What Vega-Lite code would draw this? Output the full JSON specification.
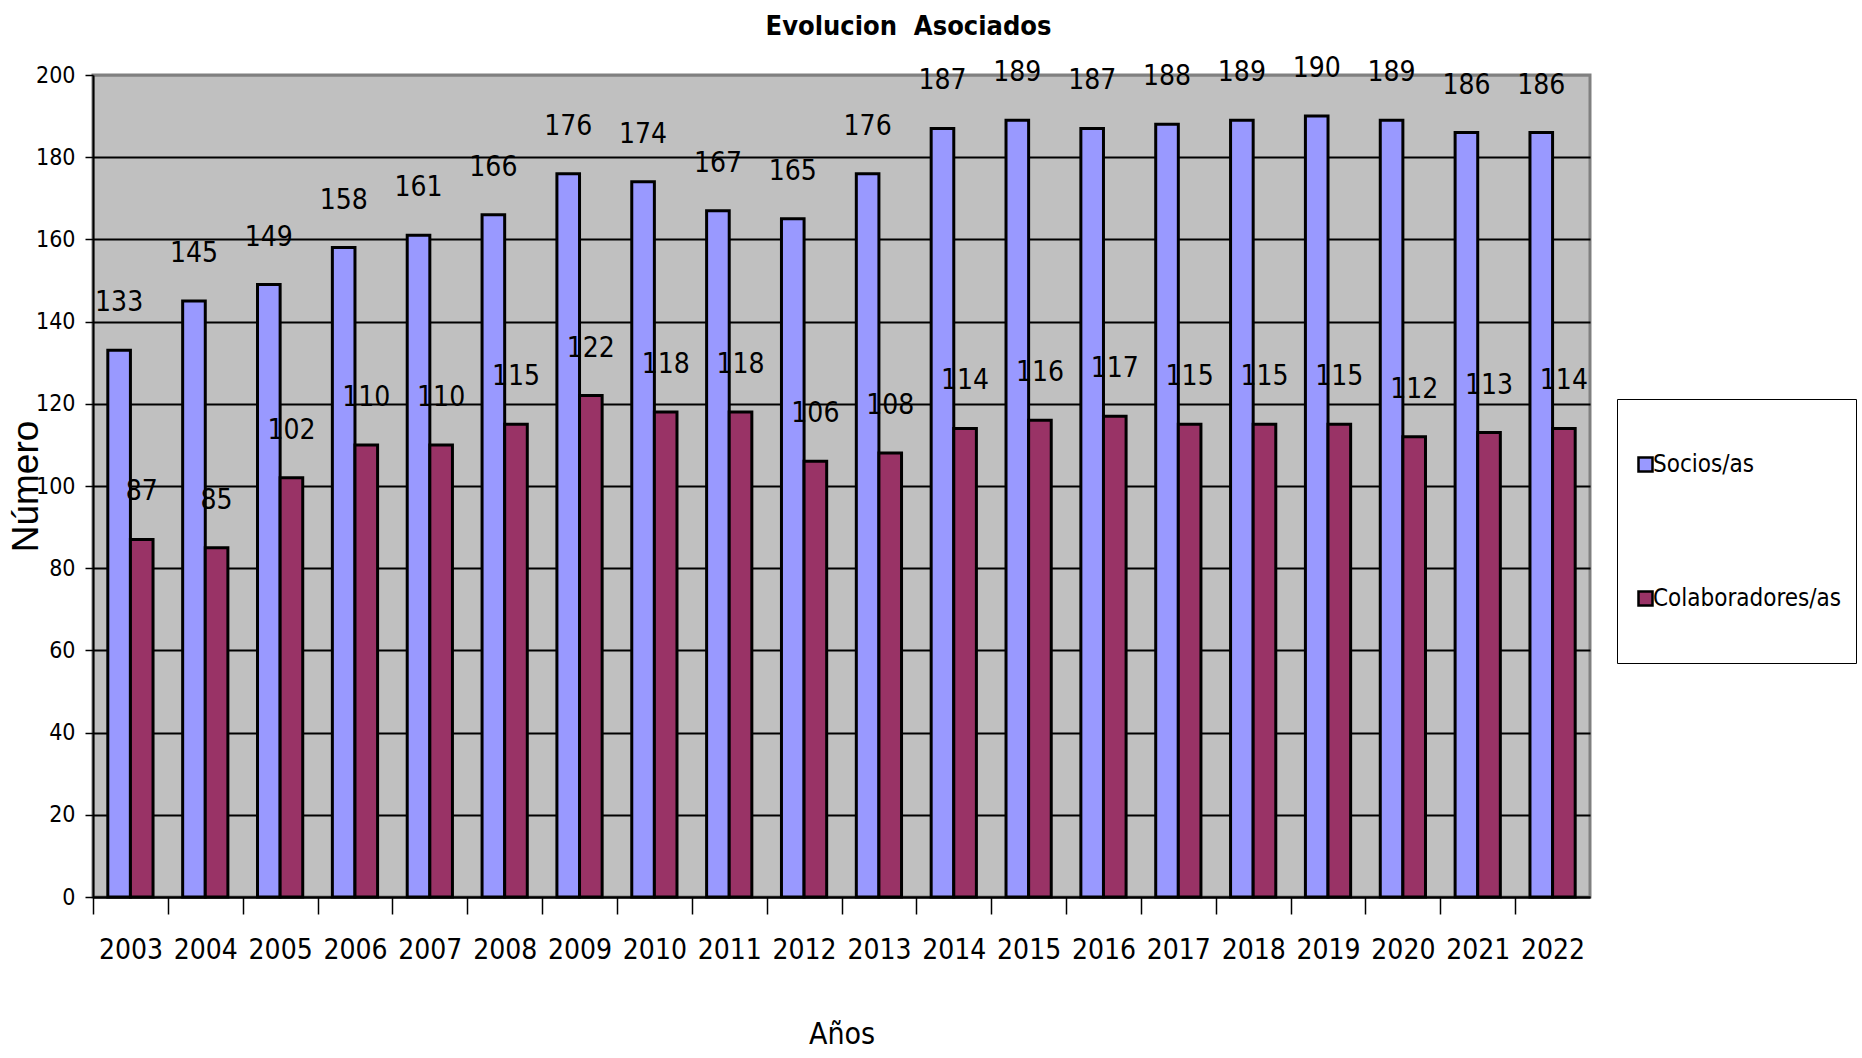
{
  "$schema": "https://vega.github.io/schema/vega-lite/v6.json",
  "autosize": {"type": "none"},
  "padding": {"left": 93, "top": 75, "right": 272, "bottom": 161},
  "width": 1497,
  "height": 822,
  "background": "white",
  "title": {
    "text": "Evolucion\u00a0 Asociados",
    "font": "DejaVu Sans Condensed, sans-serif",
    "fontSize": 27,
    "fontWeight": "bold",
    "color": "black",
    "anchor": "middle",
    "frame": "group",
    "dx": 67,
    "offset": 14
  },
  "config": {
    "view": {"fill": "#C0C0C0", "stroke": "#808080", "strokeWidth": 3},
    "font": "DejaVu Sans Condensed, sans-serif"
  },
  "data": {
    "values": [
      {"year": "2003", "serie": "Socios/as", "valor": 133},
      {"year": "2004", "serie": "Socios/as", "valor": 145},
      {"year": "2005", "serie": "Socios/as", "valor": 149},
      {"year": "2006", "serie": "Socios/as", "valor": 158},
      {"year": "2007", "serie": "Socios/as", "valor": 161},
      {"year": "2008", "serie": "Socios/as", "valor": 166},
      {"year": "2009", "serie": "Socios/as", "valor": 176},
      {"year": "2010", "serie": "Socios/as", "valor": 174},
      {"year": "2011", "serie": "Socios/as", "valor": 167},
      {"year": "2012", "serie": "Socios/as", "valor": 165},
      {"year": "2013", "serie": "Socios/as", "valor": 176},
      {"year": "2014", "serie": "Socios/as", "valor": 187},
      {"year": "2015", "serie": "Socios/as", "valor": 189},
      {"year": "2016", "serie": "Socios/as", "valor": 187},
      {"year": "2017", "serie": "Socios/as", "valor": 188},
      {"year": "2018", "serie": "Socios/as", "valor": 189},
      {"year": "2019", "serie": "Socios/as", "valor": 190},
      {"year": "2020", "serie": "Socios/as", "valor": 189},
      {"year": "2021", "serie": "Socios/as", "valor": 186},
      {"year": "2022", "serie": "Socios/as", "valor": 186},
      {"year": "2003", "serie": "Colaboradores/as", "valor": 87},
      {"year": "2004", "serie": "Colaboradores/as", "valor": 85},
      {"year": "2005", "serie": "Colaboradores/as", "valor": 102},
      {"year": "2006", "serie": "Colaboradores/as", "valor": 110},
      {"year": "2007", "serie": "Colaboradores/as", "valor": 110},
      {"year": "2008", "serie": "Colaboradores/as", "valor": 115},
      {"year": "2009", "serie": "Colaboradores/as", "valor": 122},
      {"year": "2010", "serie": "Colaboradores/as", "valor": 118},
      {"year": "2011", "serie": "Colaboradores/as", "valor": 118},
      {"year": "2012", "serie": "Colaboradores/as", "valor": 106},
      {"year": "2013", "serie": "Colaboradores/as", "valor": 108},
      {"year": "2014", "serie": "Colaboradores/as", "valor": 114},
      {"year": "2015", "serie": "Colaboradores/as", "valor": 116},
      {"year": "2016", "serie": "Colaboradores/as", "valor": 117},
      {"year": "2017", "serie": "Colaboradores/as", "valor": 115},
      {"year": "2018", "serie": "Colaboradores/as", "valor": 115},
      {"year": "2019", "serie": "Colaboradores/as", "valor": 115},
      {"year": "2020", "serie": "Colaboradores/as", "valor": 112},
      {"year": "2021", "serie": "Colaboradores/as", "valor": 113},
      {"year": "2022", "serie": "Colaboradores/as", "valor": 114}
    ]
  },
  "encoding": {
    "x": {
      "field": "year",
      "type": "nominal",
      "scale": {"paddingInner": 0, "paddingOuter": 0},
      "axis": {
        "title": "Años",
        "titleFontSize": 30,
        "titleFontWeight": "normal",
        "titleColor": "black",
        "titlePadding": 55,
        "labelAngle": 0,
        "labelFontSize": 28,
        "labelColor": "black",
        "labelPadding": 22,
        "tickSize": 17,
        "tickColor": "black",
        "tickWidth": 1.5,
        "tickOffset": -37.4,
        "labelOffset": 37.4,
        "domainColor": "black",
        "domainWidth": 2,
        "grid": false
      }
    },
    "xOffset": {
      "field": "serie",
      "type": "nominal",
      "sort": ["Socios/as", "Colaboradores/as"],
      "scale": {"paddingInner": 0, "paddingOuter": 0.655}
    },
    "y": {
      "field": "valor",
      "type": "quantitative",
      "scale": {"domain": [0, 200]},
      "axis": {
        "title": "Número",
        "titleFont": "Liberation Sans, Arial, sans-serif",
        "titleFontSize": 37,
        "titleFontWeight": "normal",
        "titleColor": "black",
        "titlePadding": -10,
        "values": [0, 20, 40, 60, 80, 100, 120, 140, 160, 180, 200],
        "labelFontSize": 23,
        "labelColor": "black",
        "labelPadding": 10,
        "tickSize": 8,
        "tickColor": "black",
        "tickWidth": 1.5,
        "domainColor": "black",
        "domainWidth": 2,
        "grid": true,
        "gridColor": {"condition": {"test": "datum.value === 200", "value": "#808080"}, "value": "black"},
        "gridWidth": 2,
        "gridOpacity": 1
      }
    }
  },
  "layer": [
    {
      "mark": {"type": "bar", "stroke": "black", "strokeWidth": 3},
      "encoding": {
        "fill": {
          "field": "serie",
          "type": "nominal",
          "scale": {"domain": ["Socios/as", "Colaboradores/as"], "range": ["#9999FF", "#993366"]},
          "legend": {
            "orient": "none",
            "legendX": 1524,
            "legendY": 324,
            "title": null,
            "padding": 14,
            "fillColor": "white",
            "strokeColor": "black",
            "symbolType": "M-0.88,-0.14H-0.6V0.14H-0.88Z M-1,0.9L-1,0.9",
            "symbolSize": 10000,
            "symbolStrokeColor": "black",
            "symbolStrokeWidth": 2.5,
            "labelFontSize": 24,
            "labelColor": "black",
            "labelOffset": -81,
            "rowPadding": 32,
            "labelLimit": 400
          }
        }
      }
    },
    {
      "mark": {"type": "text", "dy": -39, "baseline": "alphabetic", "fontSize": 28, "color": "black"},
      "encoding": {"text": {"field": "valor", "type": "quantitative"}}
    }
  ]
}
